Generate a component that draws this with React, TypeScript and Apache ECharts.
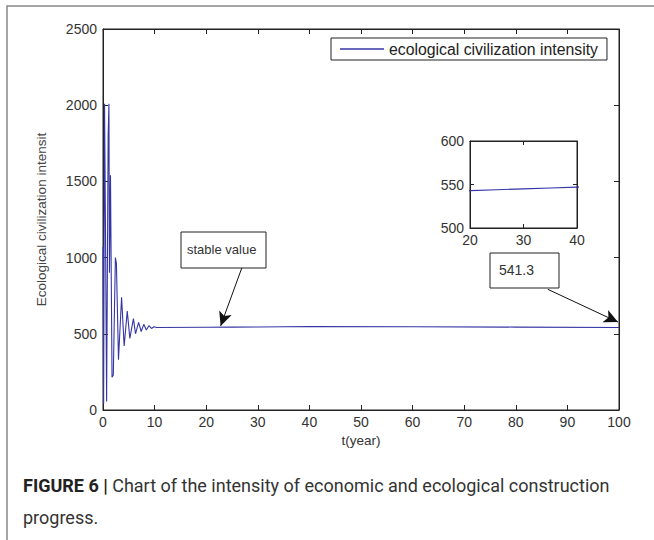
import React, { useEffect, useRef } from "react";
import * as echarts from "echarts";

// Simulated ecological civilization intensity over time (years)
const years = [
  0, 0.12, 0.3, 0.5, 0.7, 1.0, 1.15, 1.25, 1.45, 1.75, 2.0, 2.4, 2.6, 3.0, 3.6, 4.1,
  4.7, 5.2, 5.9, 6.3, 6.9, 7.4, 7.9, 8.4, 8.9, 9.4, 9.9, 10.4, 20, 25, 30, 35, 40, 60,
  80, 100,
];
const intensity = [
  1070, 40, 2010, 1100, 55, 1800, 2010, 900, 1540, 215, 230, 1000, 960, 330, 740, 420,
  650, 470, 600, 500, 575, 515, 562, 525, 553, 535, 546, 541.3, 543, 544, 545, 546, 547,
  546, 544, 541.3,
];

const seriesName = "ecological civilization intensity";
const mainXTicks = { min: 0, max: 100, interval: 10 };
const mainYTicks = { min: 0, max: 2500, interval: 500 };
const insetXTicks = { min: 20, max: 40, interval: 10 };
const insetYTicks = { min: 500, max: 600, interval: 50 };

// Annotation arrows in data coordinates: [from, to]
const stableArrow = [
  [26.9, 932],
  [22.8, 552],
];
const endArrow = [
  [86.2, 792],
  [99.8, 577],
];
const endLabel = "541.3";

const FONT = "'Liberation Sans', Arial, sans-serif";
const CAPTION_FONT = "Roboto, 'Liberation Sans', sans-serif";
const AXIS = "#222";
const TEXT = "#333";
const LINE = "#3535a5";
const plain = (v: number) => String(v);

function axisX(gridIndex: number, ticks: any, position: "top" | "bottom", labels: boolean, extra: any = {}) {
  return {
    type: "value",
    gridIndex,
    position,
    ...ticks,
    axisLine: { show: true, onZero: false, lineStyle: { color: AXIS, width: 1 } },
    axisTick: { show: true, inside: true, length: 5, lineStyle: { color: AXIS } },
    axisLabel: { show: labels, fontSize: 14, color: TEXT, fontFamily: FONT, margin: 5, formatter: plain },
    splitLine: { show: false },
    ...extra,
  };
}

function axisY(gridIndex: number, ticks: any, position: "left" | "right", labels: boolean, extra: any = {}) {
  return {
    type: "value",
    gridIndex,
    position,
    ...ticks,
    axisLine: { show: true, onZero: false, lineStyle: { color: AXIS, width: 1 } },
    axisTick: { show: true, inside: true, length: 5, lineStyle: { color: AXIS } },
    axisLabel: { show: labels, fontSize: 14, color: TEXT, fontFamily: FONT, margin: 6, formatter: plain },
    splitLine: { show: false },
    ...extra,
  };
}

const smallTick = { show: true, inside: true, length: 4, lineStyle: { color: AXIS } };

export default function App() {
  const ref = useRef<HTMLDivElement>(null);

  useEffect(() => {
    if (!ref.current) return;
    const chart = echarts.init(ref.current, null, { renderer: "svg" });
    const points = years.map((t, i) => [t, intensity[i]]);

    chart.setOption({
      animation: false,
      backgroundColor: "#fff",
      grid: [
        { left: 103, top: 29, width: 516, height: 381, show: true, borderColor: AXIS, borderWidth: 1, backgroundColor: "#fff" },
        { left: 470, top: 141, width: 107, height: 87, show: true, borderColor: AXIS, borderWidth: 1, backgroundColor: "#fff" },
      ],
      xAxis: [
        axisX(0, mainXTicks, "bottom", true, {
          name: "t(year)",
          nameLocation: "middle",
          nameGap: 22,
          nameTextStyle: { fontSize: 13.5, color: TEXT, fontFamily: FONT },
        }),
        axisX(0, mainXTicks, "top", false),
        axisX(1, insetXTicks, "bottom", true, { axisTick: smallTick }),
        axisX(1, insetXTicks, "top", false, { axisTick: smallTick }),
      ],
      yAxis: [
        axisY(0, mainYTicks, "left", true, {
          name: "Ecological civilization intensit",
          nameLocation: "middle",
          nameGap: 55,
          nameRotate: 90,
          nameTextStyle: { fontSize: 13.5, color: "#444", fontFamily: FONT },
        }),
        axisY(0, mainYTicks, "right", false),
        axisY(1, insetYTicks, "left", true, { axisTick: smallTick }),
        axisY(1, insetYTicks, "right", false, { axisTick: smallTick }),
      ],
      legend: {
        left: 331,
        top: 38,
        padding: [3, 9, 3, 9],
        borderColor: AXIS,
        borderWidth: 1,
        backgroundColor: "#fff",
        itemWidth: 44,
        itemHeight: 1.5,
        itemGap: 8,
        textStyle: { fontSize: 15.8, color: "#222", fontFamily: FONT },
        data: [{ name: seriesName, icon: "rect" }],
      },
      series: [
        {
          name: seriesName,
          type: "line",
          xAxisIndex: 0,
          yAxisIndex: 0,
          data: points,
          showSymbol: false,
          symbol: "none",
          color: LINE,
          lineStyle: { color: LINE, width: 1.1 },
          clip: true,
          markLine: {
            silent: true,
            symbol: ["none", "arrow"],
            symbolSize: [10, 14],
            label: { show: false },
            lineStyle: { color: "#111", width: 1, type: "solid" },
            data: [
              [{ coord: stableArrow[0] }, { coord: stableArrow[1] }],
              [{ coord: endArrow[0] }, { coord: endArrow[1] }],
            ],
          },
        },
        {
          name: "inset",
          type: "line",
          xAxisIndex: 2,
          yAxisIndex: 2,
          data: points,
          showSymbol: false,
          symbol: "none",
          color: LINE,
          lineStyle: { color: LINE, width: 1.1 },
          clip: true,
        },
      ],
      graphic: [
        {
          type: "rect",
          shape: { x: 7, y: 6, width: 700, height: 600 },
          style: { fill: "none", stroke: "#888", lineWidth: 1.5 },
          silent: true,
        },
        {
          type: "group",
          children: [
            {
              type: "rect",
              shape: { x: 181, y: 232, width: 85, height: 36 },
              style: { fill: "#fff", stroke: "#222", lineWidth: 1 },
            },
            {
              type: "text",
              x: 187,
              y: 249,
              style: { text: "stable value", fontSize: 13, fill: "#333", fontFamily: FONT, verticalAlign: "middle" },
            },
            {
              type: "rect",
              shape: { x: 490, y: 253, width: 69, height: 35 },
              style: { fill: "#fff", stroke: "#222", lineWidth: 1 },
            },
            {
              type: "text",
              x: 499,
              y: 270,
              style: { text: endLabel, fontSize: 14, fill: "#333", fontFamily: FONT, verticalAlign: "middle" },
            },
          ],
        },
        {
          type: "text",
          x: 23,
          y: 485,
          style: {
            text: "{b|FIGURE 6 |} Chart of the intensity of economic and ecological construction",
            fontSize: 18,
            fill: "#333",
            fontFamily: CAPTION_FONT,
            verticalAlign: "middle",
            rich: {
              b: { fontSize: 18, fontWeight: "bold", fill: "#222", fontFamily: CAPTION_FONT },
            },
          },
        },
        {
          type: "text",
          x: 23,
          y: 517,
          style: {
            text: "progress.",
            fontSize: 18,
            fill: "#333",
            fontFamily: CAPTION_FONT,
            verticalAlign: "middle",
          },
        },
      ],
    });

    return () => chart.dispose();
  }, []);

  return (
    <div
      ref={ref}
      style={{ position: "fixed", left: 0, top: 0, width: 654, height: 540, background: "#fff" }}
    />
  );
}
